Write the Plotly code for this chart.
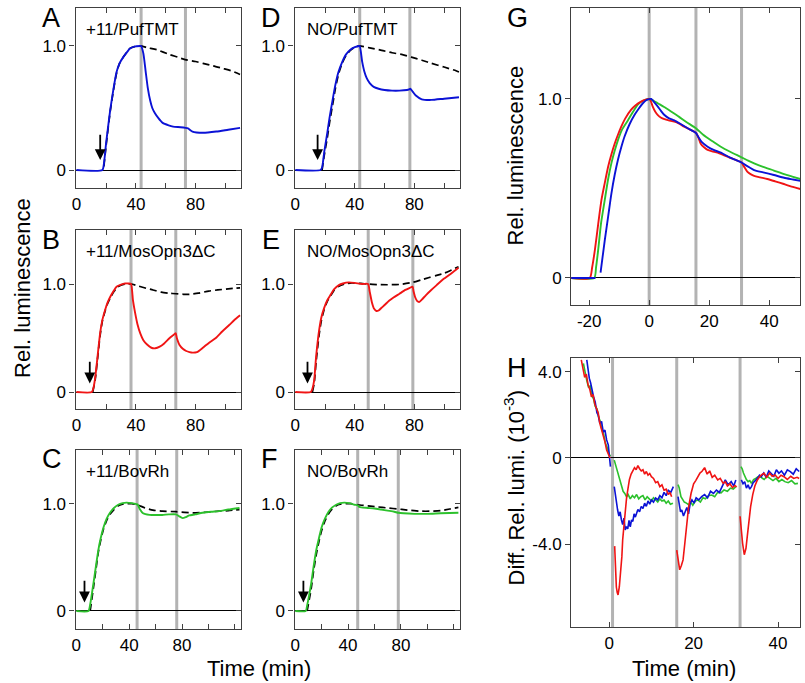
import plotly.graph_objects as go

W, H = 805, 683
FONT = "Liberation Sans"

# ---------------- data ----------------
# Panel A  (+11/PufTMT, blue)
A_t = [0, 17.5, 18.5, 20, 22.7, 25, 27, 29, 31.5, 34, 36, 39, 42.7, 43.5, 45, 46.5, 48, 49.6, 51, 52.7, 55, 58, 62, 65, 70, 73.3, 75, 78, 85, 94, 102, 110]
A_v = [0, 0, 0.05, 0.22, 0.48, 0.66, 0.79, 0.86, 0.91, 0.95, 0.98, 0.995, 1.0, 1.0, 0.94, 0.8, 0.66, 0.56, 0.5, 0.46, 0.42, 0.38, 0.36, 0.35, 0.345, 0.34, 0.335, 0.31, 0.30, 0.31, 0.325, 0.34]
A_dt = [18.5, 20, 22.7, 25, 27, 29, 31.5, 34, 36, 39, 43, 48, 54, 62.7, 68, 73, 80, 85, 92, 98, 104, 110]
A_dv = [0.03, 0.2, 0.47, 0.65, 0.78, 0.86, 0.91, 0.95, 0.98, 0.995, 1.0, 0.985, 0.97, 0.93, 0.91, 0.89, 0.875, 0.86, 0.84, 0.82, 0.80, 0.77]
A_events = [43.5, 73.3]

# Panel B  (+11/MosOpn3dC, red)
B_t = [0, 10.4, 11.5, 12.7, 14, 16, 17.5, 19.3, 21, 22.7, 25, 27, 30, 32.7, 35, 36.7, 38, 39.5, 41, 43, 45, 47.5, 50.4, 53, 56, 59, 62.7, 65, 66.7, 67.5, 69.3, 71.5, 73.8, 76, 78, 81, 85, 89, 93.7, 98, 102.7, 106, 110]
B_v = [0, 0, 0.04, 0.14, 0.3, 0.55, 0.67, 0.76, 0.83, 0.88, 0.935, 0.975, 0.995, 1.005, 1.005, 1.0, 0.85, 0.73, 0.63, 0.54, 0.48, 0.44, 0.41, 0.405, 0.42, 0.45, 0.5, 0.525, 0.545, 0.5, 0.435, 0.40, 0.38, 0.37, 0.365, 0.37, 0.41, 0.455, 0.50, 0.56, 0.62, 0.665, 0.71]
B_dt = [11, 12.7, 14, 16, 17.5, 19.3, 21, 22.7, 25, 27, 30, 33, 36.7, 42, 47, 51.5, 57, 62, 67, 72, 76, 82, 89, 95, 102, 110]
B_dv = [0, 0.12, 0.28, 0.53, 0.66, 0.75, 0.82, 0.87, 0.925, 0.965, 0.99, 1.0, 1.0, 0.98, 0.96, 0.945, 0.925, 0.915, 0.91, 0.905, 0.905, 0.915, 0.935, 0.945, 0.955, 0.965]
B_events = [36.7, 66.8]

# Panel C  (+11/BovRh, green)
C_t = [0, 9.2, 10.5, 13, 15, 16.7, 18.5, 20.5, 23, 25.5, 28.5, 31.7, 35, 38, 42, 45.5, 46.5, 48, 50.5, 55.5, 60, 65, 70, 75.5, 77.5, 80.5, 83, 85.5, 90, 95.5, 102, 108, 115, 123.5]
C_v = [0, 0, 0.06, 0.26, 0.43, 0.57, 0.68, 0.775, 0.86, 0.915, 0.96, 0.99, 1.005, 1.01, 1.005, 0.995, 0.99, 0.95, 0.91, 0.895, 0.895, 0.895, 0.9, 0.9, 0.885, 0.865, 0.875, 0.89, 0.9, 0.915, 0.925, 0.93, 0.945, 0.96]
C_dt = [10.5, 13, 15, 16.7, 18.5, 20.5, 23, 25.5, 28.5, 31.7, 35, 38, 42, 46, 52, 58, 65, 75.5, 88, 98, 108, 115, 123.5]
C_dv = [0, 0.22, 0.4, 0.55, 0.66, 0.76, 0.845, 0.9, 0.945, 0.98, 0.995, 1.0, 1.0, 0.99, 0.96, 0.94, 0.93, 0.925, 0.915, 0.92, 0.93, 0.935, 0.945]
C_events = [46, 76]

# Panel D  (NO/PufTMT, blue)
D_t = [0, 17, 18, 19.5, 21.5, 23, 25, 27, 29, 31.5, 34, 37, 40, 42.7, 43.3, 45, 46.5, 48, 50, 52.7, 56, 60, 65, 70, 75, 76.5, 77.3, 79, 81, 85, 91.5, 100, 110]
D_v = [0, 0, 0.02, 0.15, 0.30, 0.42, 0.56, 0.69, 0.79, 0.87, 0.93, 0.97, 0.99, 1.0, 1.0, 0.87, 0.79, 0.74, 0.70, 0.67, 0.655, 0.645, 0.64, 0.64, 0.645, 0.65, 0.655, 0.63, 0.60, 0.57, 0.565, 0.575, 0.586]
D_dt = [18, 19.5, 21.5, 23, 25, 27, 29, 31.5, 34, 37, 40, 43, 50, 58, 65, 72, 78, 85, 91.5, 100, 108, 110]
D_dv = [0, 0.12, 0.26, 0.38, 0.52, 0.66, 0.77, 0.86, 0.92, 0.965, 0.99, 1.0, 0.985, 0.965, 0.945, 0.93, 0.91, 0.885, 0.86, 0.83, 0.80, 0.79]
D_events = [43.3, 77]

# Panel E  (NO/MosOpn3dC, red)
E_t = [0, 10.4, 11.5, 12.7, 14, 16, 17.5, 19.3, 21.5, 23.7, 26, 29.3, 32, 36, 40, 45, 48.9, 50, 51.5, 53, 54.5, 56, 58, 60.4, 63, 66, 70, 74, 77, 78.8, 79.5, 80.5, 82, 83.5, 85, 88, 91, 95, 100, 105, 109.7]
E_v = [0, 0, 0.03, 0.11, 0.33, 0.57, 0.69, 0.775, 0.85, 0.90, 0.95, 0.99, 1.005, 1.015, 1.01, 1.0, 1.0, 0.93, 0.83, 0.77, 0.75, 0.755, 0.78, 0.81, 0.845, 0.875, 0.91, 0.945, 0.965, 0.975, 0.93, 0.88, 0.84, 0.835, 0.855, 0.9, 0.94, 0.99, 1.05, 1.10, 1.15]
E_dt = [11.5, 12.7, 14, 16, 17.5, 19.3, 21.5, 23.7, 26, 29.3, 33, 38, 44, 48.9, 55, 62, 70, 78.8, 85, 90, 95, 100, 105, 109.7]
E_dv = [0, 0.08, 0.28, 0.53, 0.66, 0.76, 0.84, 0.89, 0.94, 0.98, 1.0, 1.01, 1.005, 1.0, 0.995, 0.993, 0.996, 1.015, 1.04, 1.06, 1.08, 1.10, 1.13, 1.16]
E_events = [49, 79]

# Panel F  (NO/BovRh, green)
F_t = [0, 8, 9, 12, 14, 16, 18, 20, 22.5, 25, 28, 31, 34, 37, 41, 45, 47.3, 48.5, 50, 55, 60, 65, 70, 75, 78, 82, 90, 100, 110, 123.5]
F_v = [0, 0, 0.05, 0.25, 0.42, 0.57, 0.68, 0.78, 0.86, 0.92, 0.965, 0.99, 1.005, 1.01, 1.005, 0.99, 0.985, 0.97, 0.965, 0.96, 0.955, 0.945, 0.935, 0.925, 0.915, 0.91, 0.905, 0.905, 0.91, 0.915]
F_dt = [9, 12, 14, 16, 18, 20, 22.5, 25, 28, 31, 34, 38, 42, 47.3, 55, 62, 70, 78, 85, 95, 103, 110, 117, 123.5]
F_dv = [0, 0.2, 0.38, 0.53, 0.65, 0.75, 0.84, 0.9, 0.95, 0.98, 0.995, 1.0, 1.0, 0.99, 0.98, 0.97, 0.96, 0.95, 0.94, 0.93, 0.93, 0.935, 0.95, 0.965]
F_events = [47.3, 78]

# arrows (time, tail value, tip value)
arrow_t = {"A": 16, "B": 9, "C": 6.2, "D": 15, "E": 8.2, "F": 6.2}
arrow_tail = 0.30
arrow_tip = 0.08

# Panel G  (aligned to peak)
G_red_t = [-26, -19.8, -19, -18.1, -17, -15.9, -14.8, -13.7, -12.6, -11.5, -10.4, -9.3, -8, -6, -4.5, -2.7, -1.2, 0, 0.6, 1.2, 2, 2.9, 4, 5.1, 6.5, 8.4, 10, 11.7, 13.5, 15.6, 16.4, 17.2, 18.3, 19.5, 21, 22.8, 25, 27.2, 29, 30.8, 31.7, 32.7, 33.8, 35, 37, 39.4, 42, 44.9, 47.5, 50.4]
G_red_v = [0, 0, 0.06, 0.156, 0.30, 0.436, 0.53, 0.62, 0.69, 0.75, 0.80, 0.845, 0.89, 0.94, 0.965, 0.985, 0.996, 1.0, 0.985, 0.957, 0.93, 0.91, 0.895, 0.887, 0.88, 0.873, 0.862, 0.845, 0.83, 0.81, 0.785, 0.75, 0.73, 0.715, 0.707, 0.70, 0.685, 0.67, 0.658, 0.645, 0.62, 0.594, 0.58, 0.57, 0.562, 0.553, 0.54, 0.525, 0.51, 0.497]
G_green_t = [-26, -18.3, -17.7, -17, -16, -14.8, -13.7, -12.6, -11.5, -10.4, -9, -7.1, -5.5, -3.7, -2, 0, 1.5, 2.9, 5, 7.3, 10, 12.5, 15.6, 18, 21, 23.9, 27, 30.8, 33, 35, 38, 41.6, 45, 48, 50.4]
G_green_v = [0, 0, 0.06, 0.156, 0.31, 0.436, 0.55, 0.64, 0.71, 0.77, 0.83, 0.88, 0.925, 0.97, 0.99, 1.0, 0.99, 0.976, 0.955, 0.93, 0.90, 0.87, 0.836, 0.80, 0.765, 0.733, 0.705, 0.674, 0.655, 0.64, 0.62, 0.60, 0.58, 0.565, 0.553]
G_blue_t = [-26, -17.9, None, -16.2, -15.5, -14.8, -13.7, -12.6, -11.5, -10.4, -9.3, -8.2, -6.5, -4.9, -3.5, -2.1, -1, 0, 0.7, 1.8, 2.9, 4, 5.1, 6.5, 8.4, 10.5, 13, 15.6, 16.5, 17.5, 19.5, 21.5, 23.9, 27, 30.8, 32, 33.5, 35, 38, 41.6, 45, 48, 50.4]
G_blue_v = [0, 0, None, 0.03, 0.12, 0.21, 0.34, 0.47, 0.575, 0.66, 0.73, 0.79, 0.86, 0.91, 0.945, 0.976, 0.993, 0.999, 1.0, 0.98, 0.957, 0.932, 0.91, 0.893, 0.88, 0.86, 0.835, 0.81, 0.785, 0.76, 0.733, 0.715, 0.70, 0.672, 0.645, 0.632, 0.617, 0.603, 0.59, 0.575, 0.56, 0.55, 0.542]
G_events = [0, 15.6, 30.8]

# Panel H  (difference, x 10^-3)
H_red_t = [-6.6, -6.2, -5.8, -5.4, -5.0, -4.6, -4.2, -3.8, -3.4, -3.0, -2.6, -2.2, -1.8, -1.4, -1.0, -0.6, -0.2, 0.2, None,
           1.3, 1.5, 1.7, 1.9, 2.1, 2.4, 2.7, 3.0, 3.2, 3.5, 3.8, 4.1, 4.4, 4.8, 5.2, 5.6, 6.0, 6.4, 6.8, 7.2, 7.6, 8.0, 8.4, 8.8, 9.2, 9.6, 10.0, 10.5, 11.0, 11.5, 12.0, 12.5, 13.0, 13.5, 14.0, 14.4, 14.8, None,
           16.0, 16.3, 16.7, 17.1, 17.5, 17.9, 18.3, 18.8, 19.4, 20.0, 20.5, 21.0, 21.5, 22.0, 22.6, 23.2, 23.8, 24.4, 25.0, 25.7, 26.3, 27.0, 27.5, 28.0, 28.6, 29.2, 29.8, 30.2, None,
           31.0, 31.3, 31.6, 32.0, 32.4, 32.7, 33.1, 33.5, 34.0, 34.5, 35.1, 35.7, 36.3, 36.7, 37.3, 38.0, 38.6, 39.3, 40.0, 40.7, 41.4, 42.2, 43.0, 43.7, 44.5, 45.0]
H_red_v = [4.56, 4.2, 3.75, 3.9, 3.4, 3.2, 2.85, 2.95, 2.5, 2.3, 2.1, 1.6, 1.35, 1.0, 0.75, 0.37, 0.15, 0.0, None,
           -4.1, -5.6, -6.0, -6.25, -6.37, -6.0, -5.36, -4.6, -3.8, -3.1, -2.4, -1.9, -1.49, -1.0, -0.75, -0.56, -0.45, -0.55, -0.35, -0.5, -0.6, -0.55, -0.75, -0.63, -0.8, -0.72, -0.87, -0.95, -1.15, -1.1, -1.33, -1.25, -1.5, -1.45, -1.7, -1.6, -1.8, None,
           -4.28, -4.7, -5.2, -5.0, -4.74, -4.0, -3.19, -2.3, -1.64, -1.2, -1.05, -0.87, -0.7, -0.62, -0.45, -0.75, -0.6, -0.9, -0.8, -1.02, -0.95, -1.18, -1.1, -1.3, -1.2, -1.38, -1.28, -1.35, None,
           -2.71, -3.5, -3.97, -4.5, -4.2, -3.66, -2.9, -2.26, -1.7, -1.3, -1.02, -0.85, -0.75, -0.71, -0.9, -0.7, -0.85, -0.79, -0.95, -0.8, -0.87, -1.0, -0.85, -0.95, -0.9, -0.95]
H_green_t = [-6.1, -5.7, -5.3, -4.9, -4.5, -4.1, -3.7, -3.3, -2.9, -2.5, -2.1, -1.7, -1.3, -0.9, -0.5, -0.1, 0.3, None,
             1.2, 1.5, 1.8, 2.1, 2.5, 2.9, 3.3, 3.7, 4.1, 4.5, 5.0, 5.5, 6.0, 6.5, 7.0, 7.5, 8.0, 8.5, 9.0, 9.5, 10.0, 10.5, 11.0, 11.5, 12.0, 12.5, 13.0, 13.5, 14.0, 14.5, 15.1, None,
             16.3, 16.6, 17.0, 17.4, 17.8, 18.3, 18.8, 19.3, 19.8, 20.4, 21.0, 21.6, 22.2, 22.8, 23.5, 24.3, 25.0, 25.7, 26.5, 27.2, 28.0, 28.7, 29.4, 30.0, None,
             31.2, 31.5, 31.8, 32.1, 32.5, 32.9, 33.3, 33.7, 34.2, 34.7, 35.3, 36.0, 36.7, 37.4, 38.1, 38.8, 39.5, 40.2, 40.9, 41.6, 42.4, 43.2, 44.0, 44.7]
H_green_v = [4.4, 3.9, 3.6, 3.3, 3.35, 2.9, 2.75, 2.4, 2.3, 1.9, 1.7, 1.3, 1.1, 0.7, 0.5, 0.2, 0.08, None,
             -0.1, -0.3, -0.5, -0.71, -1.0, -1.33, -1.55, -1.65, -1.8, -1.7, -1.9, -1.75, -1.85, -1.7, -1.9, -1.8, -1.75, -1.95, -1.8, -1.9, -2.0, -1.85, -1.95, -2.05, -1.9, -2.0, -1.95, -2.1, -2.0, -2.15, -2.1, None,
             -1.24, -1.4, -1.8, -1.95, -2.05, -2.1, -2.17, -2.05, -2.2, -2.0, -1.95, -2.05, -1.85, -1.9, -1.75, -1.72, -1.8, -1.6, -1.62, -1.49, -1.55, -1.4, -1.45, -1.33, None,
             -0.4, -0.5, -0.7, -0.87, -1.0, -1.1, -1.05, -1.18, -1.0, -0.95, -0.87, -0.9, -1.0, -0.85, -0.95, -1.05, -0.95, -1.1, -1.0, -1.1, -1.15, -1.05, -1.2, -1.18]
H_blue_t = [-5.3, -5.0, -4.7, -4.4, -4.1, -3.7, -3.3, -2.9, -2.6, -2.2, -1.8, -1.4, -1.0, -0.6, -0.2, 0.3, None,
            1.2, 1.5, 1.8, 2.0, 2.3, 2.6, 2.9, 3.2, 3.5, 3.8, 4.1, 4.4, 4.7, 5.0, 5.3, 5.6, 5.9, 6.2, 6.5, 6.8, 7.2, 7.6, 8.0, 8.4, 8.8, 9.2, 9.6, 10.0, 10.5, 11.0, 11.5, 12.0, 12.5, 13.0, 13.5, 14.0, 14.6, 15.2, None,
            16.3, 16.6, 16.9, 17.2, 17.6, 18.0, 18.4, 18.8, 19.2, 19.6, 20.1, 20.6, 21.2, 21.9, 22.6, 23.3, 24.0, 24.7, 25.4, 26.1, 26.8, 27.5, 28.2, 28.9, 29.5, 30.0, None,
            31.3, 31.7, 32.1, 32.5, 32.9, 33.3, 33.7, 34.1, 34.6, 35.1, 35.6, 36.0, 36.6, 37.2, 37.8, 38.4, 39.0, 39.6, 40.2, 40.8, 41.5, 42.2, 42.9, 43.6, 44.3, 45.0]
H_blue_v = [4.56, 4.1, 3.7, 3.5, 3.2, 2.85, 2.6, 2.1, 2.0, 1.6, 1.7, 1.2, 1.3, 0.84, 0.6, -0.4, None,
            -1.33, -1.8, -2.2, -2.42, -2.7, -2.5, -2.88, -3.1, -2.8, -3.35, -3.19, -3.3, -2.9, -3.2, -2.88, -2.95, -2.6, -2.75, -2.57, -2.4, -2.5, -2.25, -2.35, -2.1, -2.25, -2.0, -2.15, -1.95, -2.05, -1.86, -1.95, -1.75, -1.85, -1.6, -1.75, -1.5, -1.6, -1.33, None,
            -1.8, -2.1, -2.5, -2.42, -2.7, -2.5, -2.3, -2.6, -2.1, -1.95, -2.1, -1.85, -1.95, -1.8, -1.7, -1.85, -1.55, -1.65, -1.49, -1.6, -1.3, -1.02, -1.25, -1.1, -1.3, -1.02, None,
            -1.02, -1.2, -1.1, -1.4, -1.25, -1.45, -1.33, -1.15, -1.05, -0.95, -0.8, -0.87, -0.7, -0.9, -0.6, -0.71, -0.85, -0.55, -0.71, -0.6, -0.8, -0.55, -0.63, -0.75, -0.5, -0.63]
H_events = [0.8, 16, 31]

# tick labels
ab_xticks = [0, 20, 40, 60, 80, 100]
ab_xtext = ["0", "", "40", "", "80", ""]
cf_xticks = [0, 20, 40, 60, 80, 100, 120]
cf_xtext = ["0", "", "40", "", "80", "", ""]
lum_yticks = [0, 1.0]
lum_ytext = ["0", "1.0"]
G_xticks = [-20, 0, 20, 40]
G_xtext = ["-20", "0", "20", "40"]
H_xticks = [0, 20, 40]
H_xtext = ["0", "20", "40"]
H_yticks = [-4, 0, 4]
H_ytext = ["-4.0", "0", "4.0"]

BLUE = "#0b12d6"
RED = "#f01414"
GREEN = "#2cc12c"
GRAY = "#b3b3b3"
FRAME = "#404040"

# ---------------- layout helpers ----------------
def dx(a, b):
    return [a / W, b / W]

def dy(top, bottom):
    return [1 - bottom / H, 1 - top / H]

panels = [
    dict(key="A", xd=dx(72, 238), yd=dy(8, 188), xr=[-0.5, 110.5], yr=[-0.145, 1.306],
         xt=ab_xticks, xl=ab_xtext, yt=lum_yticks, yl=lum_ytext,
         lines=[(A_t, A_v, BLUE)], dash=(A_dt, A_dv), ev=A_events, title="+11/PufTMT"),
    dict(key="B", xd=dx(72, 238), yd=dy(230, 409), xr=[-0.5, 110.5], yr=[-0.157, 1.5],
         xt=ab_xticks, xl=ab_xtext, yt=lum_yticks, yl=lum_ytext,
         lines=[(B_t, B_v, RED)], dash=(B_dt, B_dv), ev=B_events, title="+11/MosOpn3\u0394C"),
    dict(key="C", xd=dx(72, 238), yd=dy(450, 629), xr=[-0.5, 124.5], yr=[-0.168, 1.5],
         xt=cf_xticks, xl=cf_xtext, yt=lum_yticks, yl=lum_ytext,
         lines=[(C_t, C_v, GREEN)], dash=(C_dt, C_dv), ev=C_events, title="+11/BovRh"),
    dict(key="D", xd=dx(292, 458), yd=dy(8, 188), xr=[-0.5, 110.5], yr=[-0.145, 1.306],
         xt=ab_xticks, xl=ab_xtext, yt=lum_yticks, yl=lum_ytext,
         lines=[(D_t, D_v, BLUE)], dash=(D_dt, D_dv), ev=D_events, title="NO/PufTMT"),
    dict(key="E", xd=dx(292, 458), yd=dy(230, 409), xr=[-0.5, 110.5], yr=[-0.157, 1.5],
         xt=ab_xticks, xl=ab_xtext, yt=lum_yticks, yl=lum_ytext,
         lines=[(E_t, E_v, RED)], dash=(E_dt, E_dv), ev=E_events, title="NO/MosOpn3\u0394C"),
    dict(key="F", xd=dx(292, 458), yd=dy(450, 629), xr=[-0.5, 124.5], yr=[-0.168, 1.5],
         xt=cf_xticks, xl=cf_xtext, yt=lum_yticks, yl=lum_ytext,
         lines=[(F_t, F_v, GREEN)], dash=(F_dt, F_dv), ev=F_events, title="NO/BovRh"),
    dict(key="G", xd=dx(570, 800), yd=dy(8, 305), xr=[-26, 50.3], yr=[-0.151, 1.508],
         xt=G_xticks, xl=G_xtext, yt=lum_yticks, yl=lum_ytext,
         lines=[(G_green_t, G_green_v, GREEN), (G_red_t, G_red_v, RED), (G_blue_t, G_blue_v, BLUE)],
         dash=None, ev=G_events, title=None),
    dict(key="H", xd=dx(570, 800), yd=dy(358, 627), xr=[-9, 45.2], yr=[-7.86, 4.65],
         xt=H_xticks, xl=H_xtext, yt=H_yticks, yl=H_ytext,
         lines=[(H_green_t, H_green_v, GREEN), (H_blue_t, H_blue_v, BLUE), (H_red_t, H_red_v, RED)],
         dash=None, ev=H_events, title=None),
]

fig = go.Figure()
layout = dict(
    width=W, height=H, margin=dict(l=0, r=0, t=0, b=0),
    paper_bgcolor="white", plot_bgcolor="white", showlegend=False,
    font=dict(family=FONT, size=17, color="black"),
)
shapes = []
annotations = []
n = len(panels)
for i, p in enumerate(panels):
    k = i + 1
    kr = i + 1 + n
    xn = "x" if k == 1 else f"x{k}"
    yn = "y" if k == 1 else f"y{k}"
    yrn = f"y{kr}"
    xa = "xaxis" if k == 1 else f"xaxis{k}"
    ya = "yaxis" if k == 1 else f"yaxis{k}"
    layout[xa] = dict(
        domain=p["xd"], anchor=yn, range=p["xr"], tickmode="array",
        tickvals=p["xt"], ticktext=p["xl"], ticks="inside", ticklen=5, tickwidth=1.2,
        tickcolor=FRAME, showline=True, linecolor=FRAME, linewidth=1.3, mirror="ticks",
        showgrid=False, zeroline=False, tickfont=dict(size=17, family=FONT),
    )
    layout[ya] = dict(
        domain=p["yd"], anchor=xn, range=p["yr"], tickmode="array",
        tickvals=p["yt"], ticktext=p["yl"], ticks="outside", ticklen=5, tickwidth=1.2,
        tickcolor=FRAME, showline=True, linecolor=FRAME, linewidth=1.3, mirror=True,
        showgrid=False, zeroline=True, zerolinecolor="black", zerolinewidth=1.2,
        tickfont=dict(size=17, family=FONT),
    )
    layout[f"yaxis{kr}"] = dict(
        overlaying=yn, side="right", anchor=xn, range=p["yr"], tickmode="array",
        tickvals=p["yt"], ticks="inside", ticklen=5, tickwidth=1.2, tickcolor=FRAME,
        showticklabels=False, showline=False, showgrid=False, zeroline=False,
    )
    fig.add_trace(go.Scatter(x=[None], y=[None], xaxis=xn, yaxis=yrn, showlegend=False,
                             hoverinfo="skip"))
    for t in p["ev"]:
        shapes.append(dict(type="line", xref=xn, yref=f"{yn} domain", x0=t, x1=t, y0=0, y1=1,
                           line=dict(color=GRAY, width=3), layer="below"))
    if p["dash"] is not None:
        fig.add_trace(go.Scatter(x=p["dash"][0], y=p["dash"][1], xaxis=xn, yaxis=yn,
                                 mode="lines", line=dict(color="black", width=1.7, dash="7px,4px",
                                                         shape="spline", smoothing=0.6),
                                 showlegend=False))
    for (tt, vv, col) in p["lines"]:
        if p["key"] == "H":
            ln = dict(color=col, width=1.6)
        else:
            ln = dict(color=col, width=1.9, shape="spline", smoothing=0.6)
        fig.add_trace(go.Scatter(x=tt, y=vv, xaxis=xn, yaxis=yn, mode="lines", line=ln,
                                 connectgaps=False, showlegend=False))
    if p["key"] in arrow_t:
        annotations.append(dict(x=arrow_t[p["key"]], y=arrow_tip, ax=arrow_t[p["key"]], ay=arrow_tail,
                                xref=xn, yref=yn, axref=xn, ayref=yn, showarrow=True,
                                arrowhead=2, arrowsize=1.2, arrowwidth=1.8, arrowcolor="black",
                                text=" ", font=dict(size=1)))

# panel letters
letters = [("A", 47, 18), ("B", 47, 240), ("C", 48, 459), ("D", 268, 18), ("E", 268, 240),
           ("F", 267, 459), ("G", 516, 18), ("H", 516, 368)]
for s, x, y in letters:
    annotations.append(dict(text=s, x=x / W, y=1 - y / H, xref="paper", yref="paper",
                            showarrow=False, xanchor="center", yanchor="middle",
                            font=dict(size=27, family=FONT)))
# panel titles
for p, (x, y) in zip(panels[:6], [(80, 30), (80, 251), (80, 471), (303, 30), (303, 251), (303, 471)]):
    annotations.append(dict(text=p["title"], x=x / W, y=1 - y / H, xref="paper", yref="paper",
                            showarrow=False, xanchor="left", yanchor="middle",
                            font=dict(size=17, family=FONT)))
# axis titles
annotations += [
    dict(text="Rel. luminescence", x=18 / W, y=1 - 288 / H, textangle=-90),
    dict(text="Rel. luminescence", x=515 / W, y=1 - 155 / H, textangle=-90),
    dict(text="Diff. Rel. lumi. (10<sup>-3</sup>)", x=513 / W, y=1 - 488 / H, textangle=-90),
    dict(text="Time (min)", x=256 / W, y=1 - 668 / H),
    dict(text="Time (min)", x=683 / W, y=1 - 668 / H),
]
for a in annotations[-5:]:
    a.update(xref="paper", yref="paper", showarrow=False, xanchor="center", yanchor="middle",
             font=dict(size=22, family=FONT))

layout["shapes"] = shapes
layout["annotations"] = annotations
fig.update_layout(**layout)
fig.write_html("out.html", config={"displayModeBar": False},
               post_script="document.body.style.margin='0';")
